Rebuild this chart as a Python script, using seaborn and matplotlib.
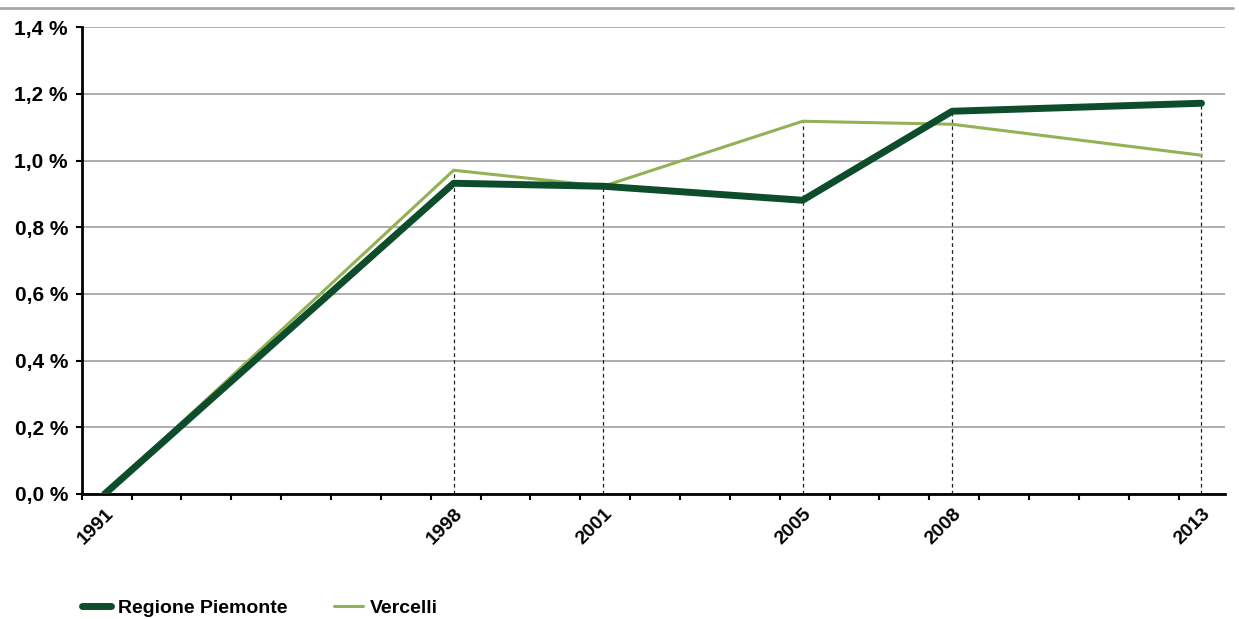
import numpy as np
import pandas as pd
import matplotlib
matplotlib.use("Agg")
import matplotlib.pyplot as plt
import seaborn as sns
from matplotlib.lines import Line2D
from matplotlib.ticker import FixedLocator, FuncFormatter

# -------- dati --------
anni = [1991, 1998, 2001, 2005, 2008, 2013]
piemonte = [0.0, 0.932, 0.923, 0.881, 1.148, 1.172]
vercelli = [0.0, 0.971, 0.923, 1.118, 1.109, 1.016]
y_ticks = [0.0, 0.2, 0.4, 0.6, 0.8, 1.0, 1.2, 1.4]

col_piemonte = "#0d4d2b"
col_vercelli = "#93b155"

sns.set_style("white")
plt.rcParams['font.family'] = ['Liberation Sans', 'DejaVu Sans']
plt.rcParams['text.color'] = 'black'
plt.rcParams['xtick.color'] = 'black'
plt.rcParams['ytick.color'] = 'black'

df = pd.DataFrame({"anno": anni, "Regione Piemonte": piemonte, "Vercelli": vercelli})

fig = plt.figure(figsize=(12.39, 6.19), dpi=100)
ax = fig.add_axes([0.066, 0.202, 0.923, 0.754])

# linee verticali tratteggiate
picchi = np.maximum(piemonte, vercelli)
ax.vlines(anni[1:], 0, picchi[1:], colors="#222222", linestyles=(0, (3, 2.5)),
          linewidth=0.9, zorder=1)

sns.lineplot(data=df, x="anno", y="Vercelli", ax=ax, color=col_vercelli,
             linewidth=2.2, zorder=3, legend=False)
sns.lineplot(data=df, x="anno", y="Regione Piemonte", ax=ax, color=col_piemonte,
             linewidth=5, zorder=4, legend=False, solid_capstyle="round")

ax.set_xlim(1990.54, 2013.48)
ax.set_ylim(0, 1.4)
ax.yaxis.set_major_locator(FixedLocator(y_ticks))
ax.yaxis.set_major_formatter(FuncFormatter(lambda v, p: f"{v:.1f} %".replace(".", ",")))
ax.grid(axis="y", color="#a0a0a0", linewidth=1.2)
ax.set_axisbelow(True)

# tick minori ad ogni anno, etichette solo negli anni con dati
ax.set_xticks(anni)
ax.xaxis.set_minor_locator(FixedLocator(np.arange(1990.54, 2013.6, 1.0)))
ax.tick_params(axis="x", which="major", bottom=True, length=0, pad=8)
ax.tick_params(axis="x", which="minor", bottom=True, length=4, width=1.5,
               direction="out", color="black")
ax.tick_params(axis="y", left=True, length=4, width=1.5, direction="out",
               color="black", pad=6)
ax.set_xticklabels([str(a) for a in anni], rotation=45, ha="right",
                   rotation_mode="anchor", fontsize=14, fontweight="bold")
for t in ax.get_yticklabels():
    t.set_fontsize(15)
    t.set_fontweight("bold")

for s in ["top", "right"]:
    ax.spines[s].set_visible(False)
for s in ["left", "bottom"]:
    ax.spines[s].set_color("black")
    ax.spines[s].set_linewidth(2)
ax.set_xlabel("")
ax.set_ylabel("")

# legenda in basso
handles = [Line2D([], [], color=col_piemonte, linewidth=5, solid_capstyle="round"),
           Line2D([], [], color=col_vercelli, linewidth=2.2)]
fig.legend(handles, ["Regione Piemonte", "Vercelli"], loc="center left",
           bbox_to_anchor=(0.066, 0.018), ncol=2, frameon=False, handlelength=1.5,
           handletextpad=0.35, columnspacing=2.4, borderpad=0, borderaxespad=0,
           prop={"size": 14, "weight": "bold"})

# linea grigia in alto
fig.add_artist(Line2D([0.0, 0.995], [0.987, 0.987], color="#a8a8a8", linewidth=2,
                      transform=fig.transFigure))

plt.savefig("out.png", dpi=100)
